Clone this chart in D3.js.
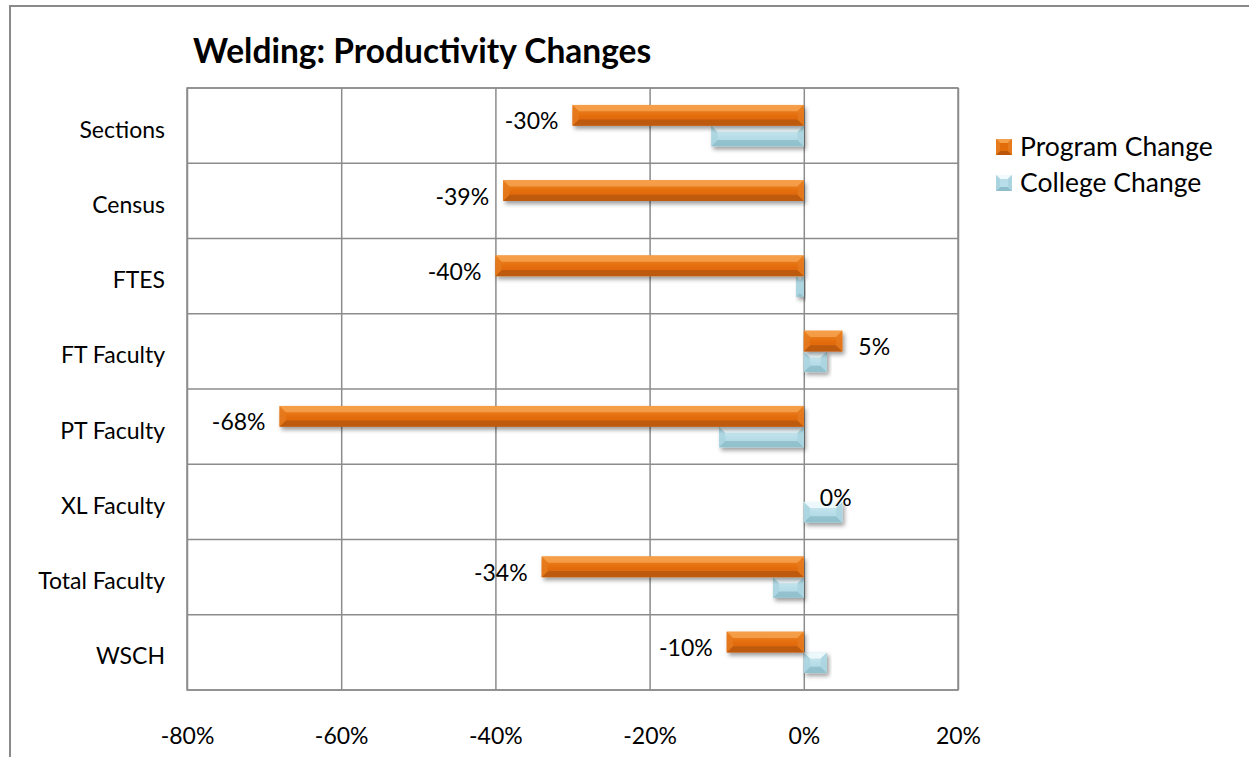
<!DOCTYPE html>
<html>
<head>
<meta charset="utf-8">
<script src="https://cdn.jsdelivr.net/npm/d3@7/dist/d3.min.js"></script>
<style>
  html, body { margin: 0; padding: 0; background: #fff; }
  svg { display: block; font-family: Lato, "Open Sans", sans-serif; }
</style>
</head>
<body>
<svg id="chart" width="1249" height="757"></svg>
<script>
// Welding program productivity vs. college-wide change (percent)
const categories = ["Sections", "Census", "FTES", "FT Faculty", "PT Faculty", "XL Faculty", "Total Faculty", "WSCH"];
const programChange = [-30, -39, -40, 5, -68, 0, -34, -10];
const collegeChange = [-12, 0, -1, 3, -11, 5, -4, 3];
const xTicks = [-80, -60, -40, -20, 0, 20];
const seriesNames = ["Program Change", "College Change"];

const svg = d3.select("#chart");
const W = 1249, H = 757;
const plot = { left: 187, right: 958, top: 88, bottom: 690 };

const x = d3.scaleLinear().domain([-80, 20]).range([plot.left, plot.right]);
const y = d3.scaleBand().domain(categories).range([plot.top, plot.bottom])
  .paddingInner(0.45).paddingOuter(0.225);
const ySub = d3.scaleBand().domain(seriesNames).range([0, y.bandwidth()]);

// colour sets for the bevelled bars: base, top facet, bottom facet, end facets
const palette = {
  "Program Change": { base: "#e36c0a", top: "#f5a04a", bottom: "#b9580c", side: "#e57a1e", g0: "#f08a2c", g1: "#d9660c" },
  "College Change": { base: "#b7dde8", top: "#f1fafd", bottom: "#8dbdca", side: "#a9d3de", g0: "#d2edf3", g1: "#aed6e1" }
};

const defs = svg.append("defs");
const shadow = defs.append("filter").attr("id", "barShadow")
  .attr("x", "-10%").attr("y", "-30%").attr("width", "130%").attr("height", "180%");
shadow.append("feDropShadow").attr("dx", 2).attr("dy", 3).attr("stdDeviation", 2.2)
  .attr("flood-color", "#000").attr("flood-opacity", 0.38);

seriesNames.forEach((s, i) => {
  const g = defs.append("linearGradient").attr("id", "grad" + i)
    .attr("x1", 0).attr("y1", 0).attr("x2", 0).attr("y2", 1);
  g.append("stop").attr("offset", "0%").attr("stop-color", palette[s].g0);
  g.append("stop").attr("offset", "55%").attr("stop-color", palette[s].base);
  g.append("stop").attr("offset", "100%").attr("stop-color", palette[s].g1);
});

// outer chart frame
svg.append("rect").attr("x", 10).attr("y", 6).attr("width", W + 20).attr("height", H + 20)
  .attr("fill", "none").attr("stroke", "#8a8a8a").attr("stroke-width", 2);

// title
svg.append("text").attr("x", 193).attr("y", 63)
  .attr("font-size", 33.5).attr("font-weight", 700).attr("fill", "#000")
  .text("Welding: Productivity Changes");

// plot area: vertical gridlines from the value axis
const gridX = svg.append("g").attr("transform", `translate(0,${plot.bottom})`)
  .call(d3.axisBottom(x).tickValues(xTicks).tickSize(-(plot.bottom - plot.top)).tickFormat(""));
gridX.select(".domain").remove();
gridX.selectAll("line").attr("stroke", "#8c8c8c").attr("stroke-width", 1.5);

// horizontal category gridlines at band boundaries
const bounds = d3.range(categories.length + 1).map(i => plot.top + i * y.step());
svg.append("g").selectAll("line").data(bounds).join("line")
  .attr("x1", plot.left).attr("x2", plot.right)
  .attr("y1", d => d).attr("y2", d => d)
  .attr("stroke", "#8c8c8c").attr("stroke-width", 1.5);

svg.append("rect").attr("x", plot.left).attr("y", plot.top)
  .attr("width", plot.right - plot.left).attr("height", plot.bottom - plot.top)
  .attr("fill", "none").attr("stroke", "#8c8c8c").attr("stroke-width", 1.5);

// value axis labels
const xAxis = svg.append("g").attr("transform", `translate(0,${plot.bottom})`)
  .call(d3.axisBottom(x).tickValues(xTicks).tickSize(0).tickPadding(38).tickFormat(d => d + "%"));
xAxis.select(".domain").remove();
xAxis.selectAll("text").attr("font-size", 23).attr("fill", "#000").attr("font-family", "Lato, sans-serif");

// category axis labels
const yAxis = svg.append("g").attr("transform", `translate(${plot.left},0)`)
  .call(d3.axisLeft(y).tickSize(0).tickPadding(22));
yAxis.select(".domain").remove();
yAxis.selectAll("text").attr("font-size", 23).attr("fill", "#000").attr("font-family", "Lato, sans-serif")
  .attr("dy", "0.52em");

// bevelled bar: base rectangle plus light top facet, dark bottom facet and end facets
function bevelBar(g, x0, y0, w, h, s, idx) {
  const c = palette[s];
  const b = Math.min(h * 0.3, w / 2);
  const x1 = x0 + w, y1 = y0 + h;
  const grp = g.append("g").attr("filter", "url(#barShadow)");
  grp.append("rect").attr("x", x0).attr("y", y0).attr("width", w).attr("height", h)
    .attr("fill", `url(#grad${idx})`);
  if (w < 1) return;
  const fac = grp.append("g");
  fac.append("polygon").attr("points", [[x0, y0], [x1, y0], [x1 - b, y0 + b], [x0 + b, y0 + b]].join(" "))
    .attr("fill", c.top).attr("opacity", 0.9);
  fac.append("polygon").attr("points", [[x0, y1], [x1, y1], [x1 - b, y1 - b], [x0 + b, y1 - b]].join(" "))
    .attr("fill", c.bottom).attr("opacity", 0.85);
  fac.append("polygon").attr("points", [[x0, y0], [x0 + b, y0 + b], [x0 + b, y1 - b], [x0, y1]].join(" "))
    .attr("fill", c.side).attr("opacity", 0.8);
  fac.append("polygon").attr("points", [[x1, y0], [x1 - b, y0 + b], [x1 - b, y1 - b], [x1, y1]].join(" "))
    .attr("fill", c.side).attr("opacity", 0.8);
}

const bars = svg.append("g");
const seriesValues = [programChange, collegeChange];
// draw college first so the program shadow falls over it
[1, 0].forEach(si => {
  const s = seriesNames[si];
  seriesValues[si].forEach((v, i) => {
    const cat = categories[i];
    const x0 = Math.min(x(0), x(v));
    const w = Math.abs(x(v) - x(0));
    if (w <= 0) return;
    bevelBar(bars, x0, y(cat) + ySub(s), w, ySub.bandwidth(), s, si);
  });
});

// data labels for the program series
svg.append("g").selectAll("text").data(programChange).join("text")
  .attr("x", v => v < 0 ? x(v) - 14 : x(v) + 16)
  .attr("y", (v, i) => y(categories[i]) + ySub("Program Change") + ySub.bandwidth() / 2 + 5)
  .attr("text-anchor", v => v < 0 ? "end" : "start")
  .attr("dominant-baseline", "central")
  .attr("font-size", 23).attr("fill", "#000")
  .text(v => v + "%");

// legend
const legend = svg.append("g").attr("transform", "translate(996,139)");
seriesNames.forEach((s, i) => {
  const row = legend.append("g").attr("transform", `translate(0,${i * 36})`);
  const c = palette[s];
  const sz = 16, b = 4;
  row.append("rect").attr("width", sz).attr("height", sz).attr("fill", c.base);
  row.append("polygon").attr("points", [[0, 0], [sz, 0], [sz - b, b], [b, b]].join(" ")).attr("fill", c.top);
  row.append("polygon").attr("points", [[0, sz], [sz, sz], [sz - b, sz - b], [b, sz - b]].join(" ")).attr("fill", c.bottom);
  row.append("polygon").attr("points", [[0, 0], [b, b], [b, sz - b], [0, sz]].join(" ")).attr("fill", c.side);
  row.append("polygon").attr("points", [[sz, 0], [sz - b, b], [sz - b, sz - b], [sz, sz]].join(" ")).attr("fill", c.side);
  row.append("text").attr("x", 24).attr("y", sz / 2 - 1).attr("dominant-baseline", "central")
    .attr("font-size", 26.5).attr("fill", "#000").text(s);
});
</script>
</body>
</html>
